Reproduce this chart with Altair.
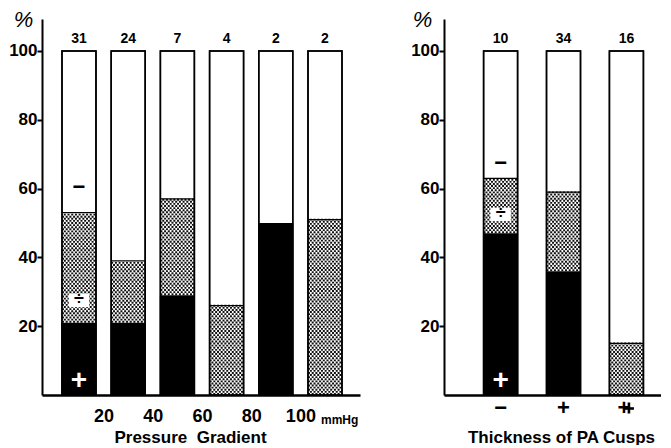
import altair as alt
import pandas as pd

# ---------------- data ----------------
# Left panel: pressure gradient classes (bars 1..6)
PG_POS = [1, 2, 3, 4, 5, 6]
PG_N = [31, 24, 7, 4, 2, 2]
PG_PLUS = [21, 21, 29, 0, 50, 0]      # black "+" share (%)
PG_DIV = [32, 18, 28, 26, 0, 51]      # stippled "÷" share (%)
PG_TICKS = [1.5, 2.5, 3.5, 4.5, 5.5]
PG_TICK_LABELS = ["20", "40", "60", "80", "100"]

# Right panel: thickness of PA cusps
TH_POS = [1, 2, 3]
TH_N = [10, 34, 16]
TH_PLUS = [47, 36, 0]
TH_DIV = [16, 23, 15]
TH_LABELS = ["−", "+", "++"]

FONT = "Liberation Sans"
H = 376
YMAX = 109.3
PX_PER_UNIT = H / YMAX


def build_panel(pos, n, plus, div, xdomain, xaxis, bar_w, pct_x, sym_y):
    df = pd.DataFrame({"pos": pos, "n": n, "plus": plus, "div": div})
    df["top"] = df["plus"] + df["div"]
    df["full"] = 100
    df["zero"] = 0

    # stipple texture rows for the "÷" segments
    step = 2.1 / PX_PER_UNIT
    rows = []
    for p, lo, d in zip(pos, plus, div):
        k = 0
        while lo + step * (k + 0.5) < lo + d:
            rows.append({"pos": p, "y": lo + step * (k + 0.5), "odd": k % 2})
            k += 1
    tex = pd.DataFrame(rows)

    yscale = alt.Scale(domain=[0, YMAX], nice=False)
    xscale = alt.Scale(domain=xdomain, nice=False, zero=False)
    yaxis = alt.Axis(
        values=[20, 40, 60, 80, 100], grid=False, tickSize=5, tickWidth=2,
        tickColor="black", domainColor="black", domainWidth=2,
        labelFont=FONT, labelFontWeight="bold", labelFontSize=17,
        labelColor="black", labelPadding=0,
        title="%", titleAngle=0, titleX=pct_x, titleY=0, titleAlign="center",
        titleBaseline="middle", titleFontSize=22, titleFont=FONT,
        titleFontWeight="normal", titleFontStyle="italic", titleColor="black",
    )

    base = alt.Chart(df)
    outline = base.mark_bar(size=bar_w, fill="white", stroke="black", strokeWidth=1.5).encode(
        x=alt.X("pos:Q", scale=xscale, axis=xaxis),
        y=alt.Y("zero:Q", scale=yscale, axis=yaxis),
        y2="full:Q",
    )
    black = base.transform_filter("datum.plus > 0").mark_bar(size=bar_w + 1, color="black").encode(
        x="pos:Q", y="zero:Q", y2="plus:Q"
    )
    half = bar_w / 2
    tex_even = alt.Chart(tex).transform_filter("datum.odd == 0").mark_rule(
        xOffset=-half, x2Offset=half, strokeWidth=1.9, strokeDash=[2.0, 1.7], color="#111"
    ).encode(x="pos:Q", x2="pos:Q", y="y:Q")
    tex_odd = alt.Chart(tex).transform_filter("datum.odd == 1").mark_rule(
        xOffset=-half, x2Offset=half, strokeWidth=1.9, strokeDash=[2.0, 1.7],
        strokeDashOffset=1.85, color="#111"
    ).encode(x="pos:Q", x2="pos:Q", y="y:Q")
    boundary = base.transform_filter("datum.div > 0").mark_rule(
        xOffset=-half, x2Offset=half, strokeWidth=1.3, color="black"
    ).encode(x="pos:Q", x2="pos:Q", y="top:Q")
    frame = base.mark_bar(size=bar_w, fillOpacity=0, stroke="black", strokeWidth=1.5).encode(
        x="pos:Q", y="zero:Q", y2="full:Q"
    )
    counts = base.mark_text(font=FONT, fontWeight="bold", fontSize=14, baseline="middle").encode(
        x="pos:Q", y=alt.datum(103.6), text="n:Q"
    )

    first = df.iloc[[0]]
    fb = alt.Chart(first)
    sym_minus = fb.mark_text(text="−", font=FONT, fontWeight="bold", fontSize=22,
                             baseline="middle", color="black").encode(x="pos:Q", y=alt.datum(sym_y[2]))
    sym_bg = fb.mark_point(shape="M-1.2,-0.8H1.2V0.8H-1.2Z", filled=True, fill="white",
                           opacity=1, size=290, strokeWidth=0).encode(x="pos:Q", y=alt.datum(sym_y[1]))
    sym_div = fb.mark_text(text="÷", font=FONT, fontWeight="bold", fontSize=18,
                           baseline="middle", color="black").encode(x="pos:Q", y=alt.datum(sym_y[1]))
    sym_plus = fb.mark_text(text="+", font=FONT, fontWeight="bold", fontSize=28,
                            baseline="middle", color="white").encode(x="pos:Q", y=alt.datum(sym_y[0]))

    layers = [outline, black, tex_even, tex_odd, boundary, frame, counts,
              sym_minus, sym_bg, sym_div, sym_plus]
    return layers, df


# ---------- left panel ----------
label_expr = "[" + ",".join("'%s'" % s for s in PG_TICK_LABELS) + "][round(datum.value - 1.5)]"
left_xaxis = alt.Axis(
    values=PG_TICKS, labelExpr=label_expr, grid=False, ticks=False,
    domainColor="black", domainWidth=2.5, labelFont=FONT, labelFontWeight="bold",
    labelFontSize=18, labelColor="black", labelPadding=12,
    title="Pressure\u00a0 Gradient", titleFont=FONT, titleFontSize=17, titleFontWeight="bold",
    titleColor="black", titleX=148, titleY=47, titleAlign="center", titleBaseline="alphabetic",
)
left_layers, left_df = build_panel(PG_POS, PG_N, PG_PLUS, PG_DIV, [0.35, 6.61],
                                   left_xaxis, 34, -19, [4, 27.5, 60.5])
mmhg = alt.Chart(left_df.iloc[[5]]).mark_text(
    text="mmHg", font=FONT, fontSize=12, fontWeight="bold", align="left", baseline="alphabetic", dx=-4
).encode(x="pos:Q", y=alt.value(H + 29))
left = alt.layer(*left_layers, mmhg).properties(width=318, height=H)

# ---------- right panel ----------
right_xaxis = alt.Axis(
    values=TH_POS, labels=False, grid=False, ticks=False,
    domainColor="black", domainWidth=2.5,
    title="Thickness of PA Cusps", titleFont=FONT, titleFontSize=17, titleFontWeight="bold",
    titleColor="black", titleX=117, titleY=47, titleAlign="center", titleBaseline="alphabetic",
)
right_layers, right_df = build_panel(TH_POS, TH_N, TH_PLUS, TH_DIV, [0.18, 3.47],
                                     right_xaxis, 34, -22, [4, 52.5, 67.5])
lab_df = pd.DataFrame({"pos": TH_POS, "label": TH_LABELS})
lab_single = alt.Chart(lab_df).transform_filter("length(datum.label) == 1").mark_text(
    font=FONT, fontWeight="bold", fontSize=22, baseline="middle", color="black"
).encode(x="pos:Q", y=alt.value(H + 13), text="label:N")
# "++" drawn as one "+" glyph with a second stroke beside it (overlapping crosses)
lab_dbl = alt.Chart(lab_df).transform_filter("length(datum.label) == 2").mark_text(
    text="+", font=FONT, fontWeight="bold", fontSize=22, baseline="middle", color="black", dx=-2.5
).encode(x="pos:Q", y=alt.value(H + 13))
dbl_v = alt.Chart(lab_df).transform_filter("length(datum.label) == 2").mark_rule(
    xOffset=2.5, strokeWidth=2.6, color="black"
).encode(x="pos:Q", y=alt.value(H + 7.5), y2=alt.value(H + 18.5))
dbl_h = alt.Chart(lab_df).transform_filter("length(datum.label) == 2").mark_rule(
    xOffset=-3, x2Offset=7.5, strokeWidth=2.6, color="black"
).encode(x="pos:Q", x2="pos:Q", y=alt.value(H + 13.5))
right = alt.layer(*right_layers, lab_single, lab_dbl, dbl_v, dbl_h).properties(width=217, height=H)

chart = alt.hconcat(left, right, spacing=84, bounds="flush").configure_view(stroke=None).properties(
    padding={"left": 0, "top": 0, "right": 0, "bottom": 0}
)

chart.save("out.html", embed_options={"renderer": "svg", "actions": False})
